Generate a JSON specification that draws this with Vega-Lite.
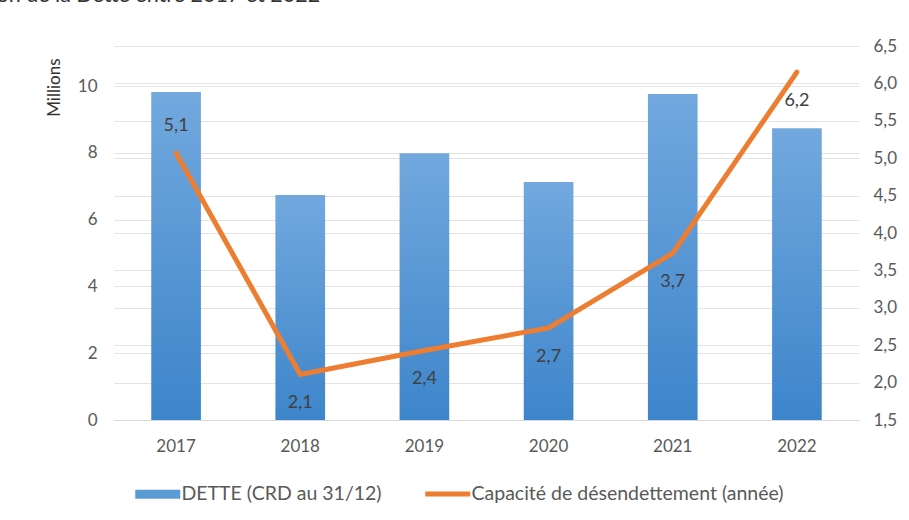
{
  "$schema": "https://vega.github.io/schema/vega-lite/v6.json",
  "autosize": {"type": "none"},
  "width": 745,
  "height": 374,
  "padding": {"left": 114, "top": 46, "right": 50, "bottom": 100},
  "background": "white",
  "config": {
    "font": "Lato",
    "view": {"stroke": null},
    "axis": {"labelFont": "Lato", "labelFontSize": 17, "labelColor": "#595959", "gridColor": "#e3e3e3", "gridWidth": 1, "ticks": false, "domain": false},
    "legend": {"labelFont": "Lato", "labelFontSize": 19.5, "labelColor": "#595959", "labelLimit": 500}
  },
  "title": {"text": "Évolution de la Dette entre 2017 et 2022", "anchor": "start", "dx": -114, "offset": 31, "fontSize": 21.5, "font": "Lato", "fontWeight": "normal", "color": "#333333"},
  "data": {
    "values": [
      {"year": "2017", "dette": 9.82, "capacite": 5.07, "label": "5,1"},
      {"year": "2018", "dette": 6.74, "capacite": 2.11, "label": "2,1"},
      {"year": "2019", "dette": 7.99, "capacite": 2.43, "label": "2,4"},
      {"year": "2020", "dette": 7.13, "capacite": 2.73, "label": "2,7"},
      {"year": "2021", "dette": 9.76, "capacite": 3.73, "label": "3,7"},
      {"year": "2022", "dette": 8.74, "capacite": 6.15, "label": "6,2"}
    ]
  },
  "encoding": {
    "x": {"field": "year", "type": "nominal", "scale": {"paddingInner": 0.6, "paddingOuter": 0.3},
      "axis": {"title": null, "labelAngle": 0, "labelPadding": 18, "domain": true, "domainColor": "#d9d9d9"}}
  },
  "layer": [
    {
      "mark": {"type": "bar", "color": {"gradient": "linear", "x1": 0, "y1": 0, "x2": 0, "y2": 1, "stops": [{"offset": 0, "color": "#72A8DE"}, {"offset": 1, "color": "#3D85CB"}]}},
      "encoding": {
        "y": {"field": "dette", "type": "quantitative", "scale": {"domain": [0, 11.2], "nice": false},
          "axis": {"orient": "left", "values": [0, 2, 4, 6, 8, 10], "title": "Millions", "titleFont": "Lato", "titleFontSize": 17, "titleFontWeight": "normal", "titleColor": "#333333", "titleAnchor": "end", "titleAlign": "right", "titleY": 12, "titlePadding": 14, "labelPadding": 17, "grid": true}}
      }
    },
    {
      "layer": [
        {
          "mark": {"type": "line", "strokeWidth": 5, "strokeCap": "round"},
          "encoding": {
            "color": {"datum": "Capacité de désendettement (année)", "type": "nominal",
              "scale": {"domain": ["DETTE (CRD au 31/12)", "Capacité de désendettement (année)"], "range": ["#5B9BD5", "#ED7D31"]},
              "legend": {"title": null, "orient": "none", "legendX": 34, "legendY": 438, "direction": "horizontal", "symbolSize": 2025, "labelOffset": 14, "columnPadding": 33,
                "encode": {"symbols": {"update": {
                  "shape": {"signal": "datum.value === 'DETTE (CRD au 31/12)' ? 'M-1,-0.2H1V0.2H-1Z' : 'M-1,0H1'"},
                  "fill": {"signal": "datum.value === 'DETTE (CRD au 31/12)' ? '#5B9BD5' : 'transparent'"},
                  "stroke": {"signal": "datum.value === 'DETTE (CRD au 31/12)' ? 'transparent' : '#ED7D31'"},
                  "strokeWidth": {"signal": "datum.value === 'DETTE (CRD au 31/12)' ? 0 : 5"},
                  "size": {"value": 2025},
                  "opacity": {"value": 1}
                }}}}
            }
          }
        },
        {
          "transform": [{"filter": "datum.year !== '2017'"}],
          "mark": {"type": "text", "dy": 29, "fontSize": 18, "color": "#404040"},
          "encoding": {"text": {"field": "label"}}
        },
        {
          "transform": [{"filter": "datum.year === '2017'"}],
          "mark": {"type": "text", "dy": -27, "fontSize": 18, "color": "#404040"},
          "encoding": {"text": {"field": "label"}}
        }
      ],
      "encoding": {
        "y": {"field": "capacite", "type": "quantitative", "scale": {"domain": [1.5, 6.5], "nice": false, "zero": false},
          "axis": {"orient": "right", "values": [1.5, 2, 2.5, 3, 3.5, 4, 4.5, 5, 5.5, 6, 6.5], "format": ".1f", "labelExpr": "replace(datum.label, '.', ',')", "title": null, "labelPadding": 14, "grid": true}}
      }
    }
  ],
  "resolve": {"scale": {"y": "independent"}}
}
